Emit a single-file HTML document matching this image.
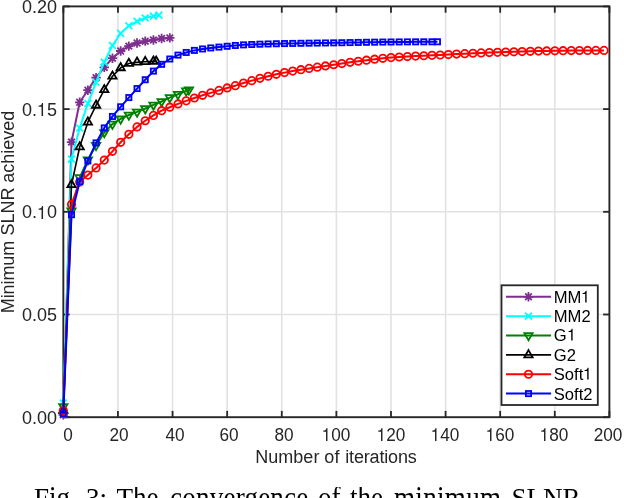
<!DOCTYPE html><html><head><meta charset="utf-8"><title>Fig. 3</title><style>
html,body{margin:0;padding:0;background:#fff;}
#c{position:relative;will-change:transform;width:624px;height:498px;overflow:hidden;background:#fff;font-family:"Liberation Sans",sans-serif;color:#262626;}
.t{position:absolute;white-space:nowrap;line-height:1;font-size:18px;}
.xt{transform:translateX(-50%) scaleX(0.955);}
.yt{transform:translate(-100%,-50%);}
.lg{position:absolute;white-space:nowrap;line-height:1;font-size:16.6px;color:#000;transform:translateY(-50%);}
.lc{position:absolute;top:-4.1px;white-space:nowrap;line-height:1;font-family:"Liberation Serif",serif;font-size:30.6px;color:#000;transform:scaleX(0.885);transform-origin:0 0;}
.cp{position:absolute;top:484.5px;white-space:nowrap;line-height:1;font-family:"Liberation Serif",serif;font-size:27.1px;color:#000;}
.g1{display:inline-block;width:0.556em;height:0.716em;vertical-align:baseline;overflow:visible;}
</style></head><body><div id="c">
<svg width="624" height="498" viewBox="0 0 624 498" style="position:absolute;left:0;top:0">
<rect x="0" y="0" width="624" height="498" fill="#ffffff"/>
<line x1="117.95" y1="6.4" x2="117.95" y2="417.2" stroke="#e2e2e2" stroke-width="1.6"/>
<line x1="172.56" y1="6.4" x2="172.56" y2="417.2" stroke="#e2e2e2" stroke-width="1.6"/>
<line x1="227.16" y1="6.4" x2="227.16" y2="417.2" stroke="#e2e2e2" stroke-width="1.6"/>
<line x1="281.77" y1="6.4" x2="281.77" y2="417.2" stroke="#e2e2e2" stroke-width="1.6"/>
<line x1="336.38" y1="6.4" x2="336.38" y2="417.2" stroke="#e2e2e2" stroke-width="1.6"/>
<line x1="390.98" y1="6.4" x2="390.98" y2="417.2" stroke="#e2e2e2" stroke-width="1.6"/>
<line x1="445.59" y1="6.4" x2="445.59" y2="417.2" stroke="#e2e2e2" stroke-width="1.6"/>
<line x1="500.19" y1="6.4" x2="500.19" y2="417.2" stroke="#e2e2e2" stroke-width="1.6"/>
<line x1="554.79" y1="6.4" x2="554.79" y2="417.2" stroke="#e2e2e2" stroke-width="1.6"/>
<line x1="63.35" y1="314.50" x2="609.4" y2="314.50" stroke="#e2e2e2" stroke-width="1.6"/>
<line x1="63.35" y1="211.80" x2="609.4" y2="211.80" stroke="#e2e2e2" stroke-width="1.6"/>
<line x1="63.35" y1="109.10" x2="609.4" y2="109.10" stroke="#e2e2e2" stroke-width="1.6"/>
<rect x="63.35" y="6.4" width="546.05" height="410.80" fill="none" stroke="#262626" stroke-width="1.9"/>
<line x1="63.35" y1="417.2" x2="63.35" y2="410.9" stroke="#262626" stroke-width="1.8"/>
<line x1="63.35" y1="6.4" x2="63.35" y2="12.7" stroke="#262626" stroke-width="1.8"/>
<line x1="117.95" y1="417.2" x2="117.95" y2="410.9" stroke="#262626" stroke-width="1.8"/>
<line x1="117.95" y1="6.4" x2="117.95" y2="12.7" stroke="#262626" stroke-width="1.8"/>
<line x1="172.56" y1="417.2" x2="172.56" y2="410.9" stroke="#262626" stroke-width="1.8"/>
<line x1="172.56" y1="6.4" x2="172.56" y2="12.7" stroke="#262626" stroke-width="1.8"/>
<line x1="227.16" y1="417.2" x2="227.16" y2="410.9" stroke="#262626" stroke-width="1.8"/>
<line x1="227.16" y1="6.4" x2="227.16" y2="12.7" stroke="#262626" stroke-width="1.8"/>
<line x1="281.77" y1="417.2" x2="281.77" y2="410.9" stroke="#262626" stroke-width="1.8"/>
<line x1="281.77" y1="6.4" x2="281.77" y2="12.7" stroke="#262626" stroke-width="1.8"/>
<line x1="336.38" y1="417.2" x2="336.38" y2="410.9" stroke="#262626" stroke-width="1.8"/>
<line x1="336.38" y1="6.4" x2="336.38" y2="12.7" stroke="#262626" stroke-width="1.8"/>
<line x1="390.98" y1="417.2" x2="390.98" y2="410.9" stroke="#262626" stroke-width="1.8"/>
<line x1="390.98" y1="6.4" x2="390.98" y2="12.7" stroke="#262626" stroke-width="1.8"/>
<line x1="445.59" y1="417.2" x2="445.59" y2="410.9" stroke="#262626" stroke-width="1.8"/>
<line x1="445.59" y1="6.4" x2="445.59" y2="12.7" stroke="#262626" stroke-width="1.8"/>
<line x1="500.19" y1="417.2" x2="500.19" y2="410.9" stroke="#262626" stroke-width="1.8"/>
<line x1="500.19" y1="6.4" x2="500.19" y2="12.7" stroke="#262626" stroke-width="1.8"/>
<line x1="554.79" y1="417.2" x2="554.79" y2="410.9" stroke="#262626" stroke-width="1.8"/>
<line x1="554.79" y1="6.4" x2="554.79" y2="12.7" stroke="#262626" stroke-width="1.8"/>
<line x1="609.40" y1="417.2" x2="609.40" y2="410.9" stroke="#262626" stroke-width="1.8"/>
<line x1="609.40" y1="6.4" x2="609.40" y2="12.7" stroke="#262626" stroke-width="1.8"/>
<line x1="63.35" y1="417.20" x2="69.65" y2="417.20" stroke="#262626" stroke-width="1.8"/>
<line x1="609.4" y1="417.20" x2="603.1" y2="417.20" stroke="#262626" stroke-width="1.8"/>
<line x1="63.35" y1="314.50" x2="69.65" y2="314.50" stroke="#262626" stroke-width="1.8"/>
<line x1="609.4" y1="314.50" x2="603.1" y2="314.50" stroke="#262626" stroke-width="1.8"/>
<line x1="63.35" y1="211.80" x2="69.65" y2="211.80" stroke="#262626" stroke-width="1.8"/>
<line x1="609.4" y1="211.80" x2="603.1" y2="211.80" stroke="#262626" stroke-width="1.8"/>
<line x1="63.35" y1="109.10" x2="69.65" y2="109.10" stroke="#262626" stroke-width="1.8"/>
<line x1="609.4" y1="109.10" x2="603.1" y2="109.10" stroke="#262626" stroke-width="1.8"/>
<line x1="63.35" y1="6.40" x2="69.65" y2="6.40" stroke="#262626" stroke-width="1.8"/>
<line x1="609.4" y1="6.40" x2="603.1" y2="6.40" stroke="#262626" stroke-width="1.8"/>
<path d="M63.30 414.86L71.49 142.08L79.69 102.29L87.88 90.19L96.07 77.67L104.27 67.42L112.46 58.19L120.65 51.01L128.84 46.09L137.04 43.01L145.23 41.17L153.42 39.94L161.62 38.50L169.81 37.89" fill="none" stroke="#7e2f8e" stroke-width="2.0" stroke-linejoin="round"/>
<path d="M58.60 414.86L68.00 414.86M63.30 410.16L63.30 419.56M59.98 411.54L66.62 418.18M59.98 418.18L66.62 411.54" fill="none" stroke="#7e2f8e" stroke-width="1.8"/>
<path d="M66.79 142.08L76.19 142.08M71.49 137.38L71.49 146.78M68.17 138.75L74.82 145.40M68.17 145.40L74.82 138.75" fill="none" stroke="#7e2f8e" stroke-width="1.8"/>
<path d="M74.99 102.29L84.39 102.29M79.69 97.59L79.69 106.99M76.36 98.96L83.01 105.61M76.36 105.61L83.01 98.96" fill="none" stroke="#7e2f8e" stroke-width="1.8"/>
<path d="M83.18 90.19L92.58 90.19M87.88 85.49L87.88 94.89M84.56 86.86L91.20 93.51M84.56 93.51L91.20 86.86" fill="none" stroke="#7e2f8e" stroke-width="1.8"/>
<path d="M91.37 77.67L100.77 77.67M96.07 72.97L96.07 82.37M92.75 74.35L99.40 81.00M92.75 81.00L99.40 74.35" fill="none" stroke="#7e2f8e" stroke-width="1.8"/>
<path d="M99.56 67.42L108.97 67.42M104.27 62.72L104.27 72.12M100.94 64.10L107.59 70.74M100.94 70.74L107.59 64.10" fill="none" stroke="#7e2f8e" stroke-width="1.8"/>
<path d="M107.76 58.19L117.16 58.19M112.46 53.49L112.46 62.89M109.13 54.87L115.78 61.51M109.13 61.51L115.78 54.87" fill="none" stroke="#7e2f8e" stroke-width="1.8"/>
<path d="M115.95 51.01L125.35 51.01M120.65 46.31L120.65 55.71M117.33 47.69L123.97 54.34M117.33 54.34L123.97 47.69" fill="none" stroke="#7e2f8e" stroke-width="1.8"/>
<path d="M124.14 46.09L133.54 46.09M128.84 41.39L128.84 50.79M125.52 42.77L132.17 49.41M125.52 49.41L132.17 42.77" fill="none" stroke="#7e2f8e" stroke-width="1.8"/>
<path d="M132.34 43.01L141.74 43.01M137.04 38.31L137.04 47.71M133.71 39.69L140.36 46.34M133.71 46.34L140.36 39.69" fill="none" stroke="#7e2f8e" stroke-width="1.8"/>
<path d="M140.53 41.17L149.93 41.17M145.23 36.47L145.23 45.87M141.91 37.84L148.55 44.49M141.91 44.49L148.55 37.84" fill="none" stroke="#7e2f8e" stroke-width="1.8"/>
<path d="M148.72 39.94L158.12 39.94M153.42 35.24L153.42 44.64M150.10 36.61L156.75 43.26M150.10 43.26L156.75 36.61" fill="none" stroke="#7e2f8e" stroke-width="1.8"/>
<path d="M156.92 38.50L166.32 38.50M161.62 33.80L161.62 43.20M158.29 35.18L164.94 41.82M158.29 41.82L164.94 35.18" fill="none" stroke="#7e2f8e" stroke-width="1.8"/>
<path d="M165.11 37.89L174.51 37.89M169.81 33.19L169.81 42.59M166.49 34.56L173.13 41.21M166.49 41.21L173.13 34.56" fill="none" stroke="#7e2f8e" stroke-width="1.8"/>
<path d="M63.30 402.96L71.49 159.10L79.69 127.92L87.88 103.52L96.07 82.19L104.27 62.09L112.46 45.47L120.65 33.37L128.84 25.78L137.04 21.27L145.23 17.99L153.42 16.14L158.88 15.12" fill="none" stroke="#00ffff" stroke-width="2.0" stroke-linejoin="round"/>
<path d="M59.90 399.56L66.70 406.36M59.90 406.36L66.70 399.56" fill="none" stroke="#00ffff" stroke-width="1.8"/>
<path d="M68.09 155.70L74.89 162.50M68.09 162.50L74.89 155.70" fill="none" stroke="#00ffff" stroke-width="1.8"/>
<path d="M76.29 124.52L83.09 131.32M76.29 131.32L83.09 124.52" fill="none" stroke="#00ffff" stroke-width="1.8"/>
<path d="M84.48 100.12L91.28 106.92M84.48 106.92L91.28 100.12" fill="none" stroke="#00ffff" stroke-width="1.8"/>
<path d="M92.67 78.79L99.47 85.59M92.67 85.59L99.47 78.79" fill="none" stroke="#00ffff" stroke-width="1.8"/>
<path d="M100.86 58.69L107.67 65.49M100.86 65.49L107.67 58.69" fill="none" stroke="#00ffff" stroke-width="1.8"/>
<path d="M109.06 42.07L115.86 48.87M109.06 48.87L115.86 42.07" fill="none" stroke="#00ffff" stroke-width="1.8"/>
<path d="M117.25 29.97L124.05 36.77M117.25 36.77L124.05 29.97" fill="none" stroke="#00ffff" stroke-width="1.8"/>
<path d="M125.44 22.38L132.24 29.18M125.44 29.18L132.24 22.38" fill="none" stroke="#00ffff" stroke-width="1.8"/>
<path d="M133.64 17.87L140.44 24.67M133.64 24.67L140.44 17.87" fill="none" stroke="#00ffff" stroke-width="1.8"/>
<path d="M141.83 14.59L148.63 21.39M141.83 21.39L148.63 14.59" fill="none" stroke="#00ffff" stroke-width="1.8"/>
<path d="M150.02 12.74L156.82 19.54M150.02 19.54L156.82 12.74" fill="none" stroke="#00ffff" stroke-width="1.8"/>
<path d="M155.48 11.72L162.28 18.52M155.48 18.52L162.28 11.72" fill="none" stroke="#00ffff" stroke-width="1.8"/>
<path d="M63.30 406.66L71.49 210.78L79.69 177.56L87.88 159.71L96.07 145.36L104.27 132.44L112.46 124.03L120.65 118.90L128.84 115.00L137.04 111.93L145.23 108.64L153.42 104.95L161.62 101.47L169.81 97.57L178.00 94.29L186.20 90.80L188.93 89.78" fill="none" stroke="#008000" stroke-width="2.0" stroke-linejoin="round"/>
<path d="M63.30 411.46L67.46 404.26L59.14 404.26Z" fill="none" stroke="#008000" stroke-width="1.8" stroke-linejoin="miter"/>
<path d="M71.49 215.58L75.65 208.38L67.34 208.38Z" fill="none" stroke="#008000" stroke-width="1.8" stroke-linejoin="miter"/>
<path d="M79.69 182.36L83.84 175.16L75.53 175.16Z" fill="none" stroke="#008000" stroke-width="1.8" stroke-linejoin="miter"/>
<path d="M87.88 164.51L92.04 157.31L83.72 157.31Z" fill="none" stroke="#008000" stroke-width="1.8" stroke-linejoin="miter"/>
<path d="M96.07 150.16L100.23 142.96L91.92 142.96Z" fill="none" stroke="#008000" stroke-width="1.8" stroke-linejoin="miter"/>
<path d="M104.27 137.24L108.42 130.04L100.11 130.04Z" fill="none" stroke="#008000" stroke-width="1.8" stroke-linejoin="miter"/>
<path d="M112.46 128.83L116.61 121.63L108.30 121.63Z" fill="none" stroke="#008000" stroke-width="1.8" stroke-linejoin="miter"/>
<path d="M120.65 123.70L124.81 116.50L116.49 116.50Z" fill="none" stroke="#008000" stroke-width="1.8" stroke-linejoin="miter"/>
<path d="M128.84 119.80L133.00 112.60L124.69 112.60Z" fill="none" stroke="#008000" stroke-width="1.8" stroke-linejoin="miter"/>
<path d="M137.04 116.73L141.19 109.53L132.88 109.53Z" fill="none" stroke="#008000" stroke-width="1.8" stroke-linejoin="miter"/>
<path d="M145.23 113.44L149.39 106.24L141.07 106.24Z" fill="none" stroke="#008000" stroke-width="1.8" stroke-linejoin="miter"/>
<path d="M153.42 109.75L157.58 102.55L149.27 102.55Z" fill="none" stroke="#008000" stroke-width="1.8" stroke-linejoin="miter"/>
<path d="M161.62 106.27L165.77 99.07L157.46 99.07Z" fill="none" stroke="#008000" stroke-width="1.8" stroke-linejoin="miter"/>
<path d="M169.81 102.37L173.97 95.17L165.65 95.17Z" fill="none" stroke="#008000" stroke-width="1.8" stroke-linejoin="miter"/>
<path d="M178.00 99.09L182.16 91.89L173.85 91.89Z" fill="none" stroke="#008000" stroke-width="1.8" stroke-linejoin="miter"/>
<path d="M186.20 95.60L190.35 88.40L182.04 88.40Z" fill="none" stroke="#008000" stroke-width="1.8" stroke-linejoin="miter"/>
<path d="M188.93 94.58L193.08 87.38L184.77 87.38Z" fill="none" stroke="#008000" stroke-width="1.8" stroke-linejoin="miter"/>
<path d="M63.30 410.35L71.49 184.74L79.69 147.00L87.88 122.18L96.07 105.36L104.27 89.78L112.46 76.24L120.65 67.83L128.84 63.52L137.04 62.29L145.23 61.68L153.42 61.27L156.15 61.27" fill="none" stroke="#000000" stroke-width="1.6" stroke-linejoin="round"/>
<path d="M63.30 405.55L67.46 412.75L59.14 412.75Z" fill="none" stroke="#000000" stroke-width="1.8" stroke-linejoin="miter"/>
<path d="M71.49 179.94L75.65 187.14L67.34 187.14Z" fill="none" stroke="#000000" stroke-width="1.8" stroke-linejoin="miter"/>
<path d="M79.69 142.20L83.84 149.40L75.53 149.40Z" fill="none" stroke="#000000" stroke-width="1.8" stroke-linejoin="miter"/>
<path d="M87.88 117.38L92.04 124.58L83.72 124.58Z" fill="none" stroke="#000000" stroke-width="1.8" stroke-linejoin="miter"/>
<path d="M96.07 100.56L100.23 107.76L91.92 107.76Z" fill="none" stroke="#000000" stroke-width="1.8" stroke-linejoin="miter"/>
<path d="M104.27 84.98L108.42 92.18L100.11 92.18Z" fill="none" stroke="#000000" stroke-width="1.8" stroke-linejoin="miter"/>
<path d="M112.46 71.44L116.61 78.64L108.30 78.64Z" fill="none" stroke="#000000" stroke-width="1.8" stroke-linejoin="miter"/>
<path d="M120.65 63.03L124.81 70.23L116.49 70.23Z" fill="none" stroke="#000000" stroke-width="1.8" stroke-linejoin="miter"/>
<path d="M128.84 58.72L133.00 65.92L124.69 65.92Z" fill="none" stroke="#000000" stroke-width="1.8" stroke-linejoin="miter"/>
<path d="M137.04 57.49L141.19 64.69L132.88 64.69Z" fill="none" stroke="#000000" stroke-width="1.8" stroke-linejoin="miter"/>
<path d="M145.23 56.88L149.39 64.08L141.07 64.08Z" fill="none" stroke="#000000" stroke-width="1.8" stroke-linejoin="miter"/>
<path d="M153.42 56.47L157.58 63.67L149.27 63.67Z" fill="none" stroke="#000000" stroke-width="1.8" stroke-linejoin="miter"/>
<path d="M156.15 56.47L160.31 63.67L152.00 63.67Z" fill="none" stroke="#000000" stroke-width="1.8" stroke-linejoin="miter"/>
<path d="M63.30 410.55L71.49 204.43L79.69 182.07L87.88 175.10L96.07 167.92L104.27 160.12L112.46 151.31L120.65 142.28L128.84 134.28L137.04 126.90L145.23 120.75L153.42 115.41L161.62 110.70L169.81 107.21L178.00 103.93L186.20 100.85L194.39 97.98L202.58 95.31L210.77 92.85L218.97 90.39L227.16 87.93L235.35 85.67L243.55 83.01L251.74 80.63L259.93 78.36L268.12 76.24L276.32 74.32L284.51 72.62L292.70 71.10L300.90 69.70L309.09 68.40L317.28 67.16L325.48 65.95L333.67 64.75L341.86 63.53L350.06 62.36L358.25 61.27L366.44 60.22L374.63 59.21L382.83 58.30L391.02 57.58L399.21 57.02L407.41 56.54L415.60 56.12L423.79 55.74L431.99 55.37L440.18 54.98L448.37 54.56L456.56 54.11L464.76 53.66L472.95 53.27L481.14 52.92L489.34 52.61L497.53 52.33L505.72 52.07L513.92 51.81L522.11 51.55L530.30 51.32L538.49 51.11L546.69 50.94L554.88 50.81L563.07 50.70L571.27 50.61L579.46 50.52L587.65 50.46L595.85 50.41L604.04 50.40" fill="none" stroke="#ff0000" stroke-width="2.0" stroke-linejoin="round"/>
<circle cx="63.30" cy="410.55" r="3.70" fill="none" stroke="#ff0000" stroke-width="1.8"/>
<circle cx="71.49" cy="204.43" r="3.70" fill="none" stroke="#ff0000" stroke-width="1.8"/>
<circle cx="79.69" cy="182.07" r="3.70" fill="none" stroke="#ff0000" stroke-width="1.8"/>
<circle cx="87.88" cy="175.10" r="3.70" fill="none" stroke="#ff0000" stroke-width="1.8"/>
<circle cx="96.07" cy="167.92" r="3.70" fill="none" stroke="#ff0000" stroke-width="1.8"/>
<circle cx="104.27" cy="160.12" r="3.70" fill="none" stroke="#ff0000" stroke-width="1.8"/>
<circle cx="112.46" cy="151.31" r="3.70" fill="none" stroke="#ff0000" stroke-width="1.8"/>
<circle cx="120.65" cy="142.28" r="3.70" fill="none" stroke="#ff0000" stroke-width="1.8"/>
<circle cx="128.84" cy="134.28" r="3.70" fill="none" stroke="#ff0000" stroke-width="1.8"/>
<circle cx="137.04" cy="126.90" r="3.70" fill="none" stroke="#ff0000" stroke-width="1.8"/>
<circle cx="145.23" cy="120.75" r="3.70" fill="none" stroke="#ff0000" stroke-width="1.8"/>
<circle cx="153.42" cy="115.41" r="3.70" fill="none" stroke="#ff0000" stroke-width="1.8"/>
<circle cx="161.62" cy="110.70" r="3.70" fill="none" stroke="#ff0000" stroke-width="1.8"/>
<circle cx="169.81" cy="107.21" r="3.70" fill="none" stroke="#ff0000" stroke-width="1.8"/>
<circle cx="178.00" cy="103.93" r="3.70" fill="none" stroke="#ff0000" stroke-width="1.8"/>
<circle cx="186.20" cy="100.85" r="3.70" fill="none" stroke="#ff0000" stroke-width="1.8"/>
<circle cx="194.39" cy="97.98" r="3.70" fill="none" stroke="#ff0000" stroke-width="1.8"/>
<circle cx="202.58" cy="95.31" r="3.70" fill="none" stroke="#ff0000" stroke-width="1.8"/>
<circle cx="210.77" cy="92.85" r="3.70" fill="none" stroke="#ff0000" stroke-width="1.8"/>
<circle cx="218.97" cy="90.39" r="3.70" fill="none" stroke="#ff0000" stroke-width="1.8"/>
<circle cx="227.16" cy="87.93" r="3.70" fill="none" stroke="#ff0000" stroke-width="1.8"/>
<circle cx="235.35" cy="85.67" r="3.70" fill="none" stroke="#ff0000" stroke-width="1.8"/>
<circle cx="243.55" cy="83.01" r="3.70" fill="none" stroke="#ff0000" stroke-width="1.8"/>
<circle cx="251.74" cy="80.63" r="3.70" fill="none" stroke="#ff0000" stroke-width="1.8"/>
<circle cx="259.93" cy="78.36" r="3.70" fill="none" stroke="#ff0000" stroke-width="1.8"/>
<circle cx="268.12" cy="76.24" r="3.70" fill="none" stroke="#ff0000" stroke-width="1.8"/>
<circle cx="276.32" cy="74.32" r="3.70" fill="none" stroke="#ff0000" stroke-width="1.8"/>
<circle cx="284.51" cy="72.62" r="3.70" fill="none" stroke="#ff0000" stroke-width="1.8"/>
<circle cx="292.70" cy="71.10" r="3.70" fill="none" stroke="#ff0000" stroke-width="1.8"/>
<circle cx="300.90" cy="69.70" r="3.70" fill="none" stroke="#ff0000" stroke-width="1.8"/>
<circle cx="309.09" cy="68.40" r="3.70" fill="none" stroke="#ff0000" stroke-width="1.8"/>
<circle cx="317.28" cy="67.16" r="3.70" fill="none" stroke="#ff0000" stroke-width="1.8"/>
<circle cx="325.48" cy="65.95" r="3.70" fill="none" stroke="#ff0000" stroke-width="1.8"/>
<circle cx="333.67" cy="64.75" r="3.70" fill="none" stroke="#ff0000" stroke-width="1.8"/>
<circle cx="341.86" cy="63.53" r="3.70" fill="none" stroke="#ff0000" stroke-width="1.8"/>
<circle cx="350.06" cy="62.36" r="3.70" fill="none" stroke="#ff0000" stroke-width="1.8"/>
<circle cx="358.25" cy="61.27" r="3.70" fill="none" stroke="#ff0000" stroke-width="1.8"/>
<circle cx="366.44" cy="60.22" r="3.70" fill="none" stroke="#ff0000" stroke-width="1.8"/>
<circle cx="374.63" cy="59.21" r="3.70" fill="none" stroke="#ff0000" stroke-width="1.8"/>
<circle cx="382.83" cy="58.30" r="3.70" fill="none" stroke="#ff0000" stroke-width="1.8"/>
<circle cx="391.02" cy="57.58" r="3.70" fill="none" stroke="#ff0000" stroke-width="1.8"/>
<circle cx="399.21" cy="57.02" r="3.70" fill="none" stroke="#ff0000" stroke-width="1.8"/>
<circle cx="407.41" cy="56.54" r="3.70" fill="none" stroke="#ff0000" stroke-width="1.8"/>
<circle cx="415.60" cy="56.12" r="3.70" fill="none" stroke="#ff0000" stroke-width="1.8"/>
<circle cx="423.79" cy="55.74" r="3.70" fill="none" stroke="#ff0000" stroke-width="1.8"/>
<circle cx="431.99" cy="55.37" r="3.70" fill="none" stroke="#ff0000" stroke-width="1.8"/>
<circle cx="440.18" cy="54.98" r="3.70" fill="none" stroke="#ff0000" stroke-width="1.8"/>
<circle cx="448.37" cy="54.56" r="3.70" fill="none" stroke="#ff0000" stroke-width="1.8"/>
<circle cx="456.56" cy="54.11" r="3.70" fill="none" stroke="#ff0000" stroke-width="1.8"/>
<circle cx="464.76" cy="53.66" r="3.70" fill="none" stroke="#ff0000" stroke-width="1.8"/>
<circle cx="472.95" cy="53.27" r="3.70" fill="none" stroke="#ff0000" stroke-width="1.8"/>
<circle cx="481.14" cy="52.92" r="3.70" fill="none" stroke="#ff0000" stroke-width="1.8"/>
<circle cx="489.34" cy="52.61" r="3.70" fill="none" stroke="#ff0000" stroke-width="1.8"/>
<circle cx="497.53" cy="52.33" r="3.70" fill="none" stroke="#ff0000" stroke-width="1.8"/>
<circle cx="505.72" cy="52.07" r="3.70" fill="none" stroke="#ff0000" stroke-width="1.8"/>
<circle cx="513.92" cy="51.81" r="3.70" fill="none" stroke="#ff0000" stroke-width="1.8"/>
<circle cx="522.11" cy="51.55" r="3.70" fill="none" stroke="#ff0000" stroke-width="1.8"/>
<circle cx="530.30" cy="51.32" r="3.70" fill="none" stroke="#ff0000" stroke-width="1.8"/>
<circle cx="538.49" cy="51.11" r="3.70" fill="none" stroke="#ff0000" stroke-width="1.8"/>
<circle cx="546.69" cy="50.94" r="3.70" fill="none" stroke="#ff0000" stroke-width="1.8"/>
<circle cx="554.88" cy="50.81" r="3.70" fill="none" stroke="#ff0000" stroke-width="1.8"/>
<circle cx="563.07" cy="50.70" r="3.70" fill="none" stroke="#ff0000" stroke-width="1.8"/>
<circle cx="571.27" cy="50.61" r="3.70" fill="none" stroke="#ff0000" stroke-width="1.8"/>
<circle cx="579.46" cy="50.52" r="3.70" fill="none" stroke="#ff0000" stroke-width="1.8"/>
<circle cx="587.65" cy="50.46" r="3.70" fill="none" stroke="#ff0000" stroke-width="1.8"/>
<circle cx="595.85" cy="50.41" r="3.70" fill="none" stroke="#ff0000" stroke-width="1.8"/>
<circle cx="604.04" cy="50.40" r="3.70" fill="none" stroke="#ff0000" stroke-width="1.8"/>
<path d="M63.30 413.83L71.49 214.68L79.69 181.66L87.88 160.95L96.07 142.90L104.27 127.92L112.46 116.44L120.65 106.80L128.84 97.57L137.04 88.55L145.23 79.73L153.42 71.11L161.62 64.34L169.81 59.01L178.00 55.11L186.20 52.45L194.39 50.40L202.58 48.96L210.77 47.94L218.97 47.11L227.16 46.29L235.35 45.47L243.55 44.86L251.74 44.49L259.93 44.19L268.12 43.95L276.32 43.75L284.51 43.57L292.70 43.42L300.90 43.29L309.09 43.18L317.28 43.07L325.48 42.96L333.67 42.85L341.86 42.72L350.06 42.58L358.25 42.44L366.44 42.29L374.63 42.17L382.83 42.06L391.02 41.99L399.21 41.93L407.41 41.88L415.60 41.84L423.79 41.81L431.99 41.79L437.45 41.78" fill="none" stroke="#0000ff" stroke-width="2.0" stroke-linejoin="round"/>
<rect x="60.70" y="411.23" width="5.20" height="5.20" fill="none" stroke="#0000ff" stroke-width="1.8"/>
<rect x="68.89" y="212.08" width="5.20" height="5.20" fill="none" stroke="#0000ff" stroke-width="1.8"/>
<rect x="77.09" y="179.06" width="5.20" height="5.20" fill="none" stroke="#0000ff" stroke-width="1.8"/>
<rect x="85.28" y="158.35" width="5.20" height="5.20" fill="none" stroke="#0000ff" stroke-width="1.8"/>
<rect x="93.47" y="140.30" width="5.20" height="5.20" fill="none" stroke="#0000ff" stroke-width="1.8"/>
<rect x="101.67" y="125.32" width="5.20" height="5.20" fill="none" stroke="#0000ff" stroke-width="1.8"/>
<rect x="109.86" y="113.84" width="5.20" height="5.20" fill="none" stroke="#0000ff" stroke-width="1.8"/>
<rect x="118.05" y="104.20" width="5.20" height="5.20" fill="none" stroke="#0000ff" stroke-width="1.8"/>
<rect x="126.24" y="94.97" width="5.20" height="5.20" fill="none" stroke="#0000ff" stroke-width="1.8"/>
<rect x="134.44" y="85.95" width="5.20" height="5.20" fill="none" stroke="#0000ff" stroke-width="1.8"/>
<rect x="142.63" y="77.13" width="5.20" height="5.20" fill="none" stroke="#0000ff" stroke-width="1.8"/>
<rect x="150.82" y="68.51" width="5.20" height="5.20" fill="none" stroke="#0000ff" stroke-width="1.8"/>
<rect x="159.02" y="61.74" width="5.20" height="5.20" fill="none" stroke="#0000ff" stroke-width="1.8"/>
<rect x="167.21" y="56.41" width="5.20" height="5.20" fill="none" stroke="#0000ff" stroke-width="1.8"/>
<rect x="175.40" y="52.51" width="5.20" height="5.20" fill="none" stroke="#0000ff" stroke-width="1.8"/>
<rect x="183.60" y="49.85" width="5.20" height="5.20" fill="none" stroke="#0000ff" stroke-width="1.8"/>
<rect x="191.79" y="47.80" width="5.20" height="5.20" fill="none" stroke="#0000ff" stroke-width="1.8"/>
<rect x="199.98" y="46.36" width="5.20" height="5.20" fill="none" stroke="#0000ff" stroke-width="1.8"/>
<rect x="208.17" y="45.34" width="5.20" height="5.20" fill="none" stroke="#0000ff" stroke-width="1.8"/>
<rect x="216.37" y="44.51" width="5.20" height="5.20" fill="none" stroke="#0000ff" stroke-width="1.8"/>
<rect x="224.56" y="43.69" width="5.20" height="5.20" fill="none" stroke="#0000ff" stroke-width="1.8"/>
<rect x="232.75" y="42.87" width="5.20" height="5.20" fill="none" stroke="#0000ff" stroke-width="1.8"/>
<rect x="240.95" y="42.26" width="5.20" height="5.20" fill="none" stroke="#0000ff" stroke-width="1.8"/>
<rect x="249.14" y="41.89" width="5.20" height="5.20" fill="none" stroke="#0000ff" stroke-width="1.8"/>
<rect x="257.33" y="41.59" width="5.20" height="5.20" fill="none" stroke="#0000ff" stroke-width="1.8"/>
<rect x="265.52" y="41.35" width="5.20" height="5.20" fill="none" stroke="#0000ff" stroke-width="1.8"/>
<rect x="273.72" y="41.15" width="5.20" height="5.20" fill="none" stroke="#0000ff" stroke-width="1.8"/>
<rect x="281.91" y="40.97" width="5.20" height="5.20" fill="none" stroke="#0000ff" stroke-width="1.8"/>
<rect x="290.10" y="40.82" width="5.20" height="5.20" fill="none" stroke="#0000ff" stroke-width="1.8"/>
<rect x="298.30" y="40.69" width="5.20" height="5.20" fill="none" stroke="#0000ff" stroke-width="1.8"/>
<rect x="306.49" y="40.58" width="5.20" height="5.20" fill="none" stroke="#0000ff" stroke-width="1.8"/>
<rect x="314.68" y="40.47" width="5.20" height="5.20" fill="none" stroke="#0000ff" stroke-width="1.8"/>
<rect x="322.88" y="40.36" width="5.20" height="5.20" fill="none" stroke="#0000ff" stroke-width="1.8"/>
<rect x="331.07" y="40.25" width="5.20" height="5.20" fill="none" stroke="#0000ff" stroke-width="1.8"/>
<rect x="339.26" y="40.12" width="5.20" height="5.20" fill="none" stroke="#0000ff" stroke-width="1.8"/>
<rect x="347.46" y="39.98" width="5.20" height="5.20" fill="none" stroke="#0000ff" stroke-width="1.8"/>
<rect x="355.65" y="39.84" width="5.20" height="5.20" fill="none" stroke="#0000ff" stroke-width="1.8"/>
<rect x="363.84" y="39.69" width="5.20" height="5.20" fill="none" stroke="#0000ff" stroke-width="1.8"/>
<rect x="372.03" y="39.57" width="5.20" height="5.20" fill="none" stroke="#0000ff" stroke-width="1.8"/>
<rect x="380.23" y="39.46" width="5.20" height="5.20" fill="none" stroke="#0000ff" stroke-width="1.8"/>
<rect x="388.42" y="39.39" width="5.20" height="5.20" fill="none" stroke="#0000ff" stroke-width="1.8"/>
<rect x="396.61" y="39.33" width="5.20" height="5.20" fill="none" stroke="#0000ff" stroke-width="1.8"/>
<rect x="404.81" y="39.28" width="5.20" height="5.20" fill="none" stroke="#0000ff" stroke-width="1.8"/>
<rect x="413.00" y="39.24" width="5.20" height="5.20" fill="none" stroke="#0000ff" stroke-width="1.8"/>
<rect x="421.19" y="39.21" width="5.20" height="5.20" fill="none" stroke="#0000ff" stroke-width="1.8"/>
<rect x="429.38" y="39.19" width="5.20" height="5.20" fill="none" stroke="#0000ff" stroke-width="1.8"/>
<rect x="434.85" y="39.18" width="5.20" height="5.20" fill="none" stroke="#0000ff" stroke-width="1.8"/>
<rect x="501.5" y="285.3" width="96.30" height="119.70" fill="#ffffff" stroke="#262626" stroke-width="1.8"/>
<line x1="506.0" y1="296.80" x2="551.1" y2="296.80" stroke="#7e2f8e" stroke-width="2.0"/>
<path d="M523.80 296.80L533.20 296.80M528.50 292.10L528.50 301.50M525.18 293.48L531.82 300.12M525.18 300.12L531.82 293.48" fill="none" stroke="#7e2f8e" stroke-width="1.8"/>
<line x1="506.0" y1="316.16" x2="551.1" y2="316.16" stroke="#00ffff" stroke-width="2.0"/>
<path d="M525.10 312.76L531.90 319.56M525.10 319.56L531.90 312.76" fill="none" stroke="#00ffff" stroke-width="1.8"/>
<line x1="506.0" y1="335.52" x2="551.1" y2="335.52" stroke="#008000" stroke-width="2.0"/>
<path d="M528.50 340.32L532.66 333.12L524.34 333.12Z" fill="none" stroke="#008000" stroke-width="1.8" stroke-linejoin="miter"/>
<line x1="506.0" y1="354.88" x2="551.1" y2="354.88" stroke="#000000" stroke-width="1.6"/>
<path d="M528.50 350.08L532.66 357.28L524.34 357.28Z" fill="none" stroke="#000000" stroke-width="1.8" stroke-linejoin="miter"/>
<line x1="506.0" y1="374.24" x2="551.1" y2="374.24" stroke="#ff0000" stroke-width="2.0"/>
<circle cx="528.50" cy="374.24" r="3.70" fill="none" stroke="#ff0000" stroke-width="1.8"/>
<line x1="506.0" y1="393.60" x2="551.1" y2="393.60" stroke="#0000ff" stroke-width="2.0"/>
<rect x="525.90" y="391.00" width="5.20" height="5.20" fill="none" stroke="#0000ff" stroke-width="1.8"/>
</svg>
<div class="t xt" style="left:68.05px;top:426px;">0</div>
<div class="t xt" style="left:119.25px;top:426px;">20</div>
<div class="t xt" style="left:174.76px;top:426px;">40</div>
<div class="t xt" style="left:229.06px;top:426px;">60</div>
<div class="t xt" style="left:283.77px;top:426px;">80</div>
<div class="t xt" style="left:335.57px;top:426px;"><svg class="g1" viewBox="0 0 556 716" preserveAspectRatio="none"><path fill="currentColor" d="M338 716L254 716L254 204L96 204L96 142C196 138 264 100 286 0L338 0Z"/></svg>00</div>
<div class="t xt" style="left:391.08px;top:426px;"><svg class="g1" viewBox="0 0 556 716" preserveAspectRatio="none"><path fill="currentColor" d="M338 716L254 716L254 204L96 204L96 142C196 138 264 100 286 0L338 0Z"/></svg>20</div>
<div class="t xt" style="left:444.89px;top:426px;"><svg class="g1" viewBox="0 0 556 716" preserveAspectRatio="none"><path fill="currentColor" d="M338 716L254 716L254 204L96 204L96 142C196 138 264 100 286 0L338 0Z"/></svg>40</div>
<div class="t xt" style="left:499.69px;top:426px;"><svg class="g1" viewBox="0 0 556 716" preserveAspectRatio="none"><path fill="currentColor" d="M338 716L254 716L254 204L96 204L96 142C196 138 264 100 286 0L338 0Z"/></svg>60</div>
<div class="t xt" style="left:554.25px;top:426px;"><svg class="g1" viewBox="0 0 556 716" preserveAspectRatio="none"><path fill="currentColor" d="M338 716L254 716L254 204L96 204L96 142C196 138 264 100 286 0L338 0Z"/></svg>80</div>
<div class="t xt" style="left:608.20px;top:426px;">200</div>
<div class="t yt" style="left:57px;top:417.80px">0.00</div>
<div class="t yt" style="left:57px;top:315.10px">0.05</div>
<div class="t yt" style="left:57px;top:212.40px">0.<svg class="g1" viewBox="0 0 556 716" preserveAspectRatio="none"><path fill="currentColor" d="M338 716L254 716L254 204L96 204L96 142C196 138 264 100 286 0L338 0Z"/></svg>0</div>
<div class="t yt" style="left:57px;top:109.70px">0.<svg class="g1" viewBox="0 0 556 716" preserveAspectRatio="none"><path fill="currentColor" d="M338 716L254 716L254 204L96 204L96 142C196 138 264 100 286 0L338 0Z"/></svg>5</div>
<div class="t yt" style="left:57px;top:7.00px">0.20</div>
<div class="t" style="left:335.5px;top:447.8px;transform:translateX(-50%)">Number of <span style="position:relative;left:0.9px;letter-spacing:-0.18px">iterations</span></div>
<div class="t" style="left:8px;top:212.0px;transform:translate(-50%,-50%) rotate(-90deg)"><span style="letter-spacing:-0.12px">Minimum</span> <span style="position:relative;left:0.35px">SLNR</span> <span style="position:relative;left:0.2px">achieved</span></div>
<div class="lg" style="left:553.8px;top:298.10px">MM<svg class="g1" viewBox="0 0 556 716" preserveAspectRatio="none"><path fill="currentColor" d="M338 716L254 716L254 204L96 204L96 142C196 138 264 100 286 0L338 0Z"/></svg></div>
<div class="lg" style="left:553.8px;top:316.66px">MM2</div>
<div class="lg" style="left:553.8px;top:336.22px">G<svg class="g1" viewBox="0 0 556 716" preserveAspectRatio="none"><path fill="currentColor" d="M338 716L254 716L254 204L96 204L96 142C196 138 264 100 286 0L338 0Z"/></svg></div>
<div class="lg" style="left:553.8px;top:356.48px">G2</div>
<div class="lg" style="left:553.8px;top:374.74px">Soft<svg class="g1" viewBox="0 0 556 716" preserveAspectRatio="none"><path fill="currentColor" d="M338 716L254 716L254 204L96 204L96 142C196 138 264 100 286 0L338 0Z"/></svg></div>
<div class="lg" style="left:553.8px;top:394.90px">Soft2</div>
<div class="cp" style="left:34.00px">F</div>
<div class="cp" style="left:86.00px">3:</div>
<div class="cp" style="left:116.60px">T</div>
<div class="cp" style="left:511.40px">SLNR</div>
<div style="position:absolute;left:0;top:487.3px;width:624px;height:10.7px;overflow:hidden">
<div class="lc" style="left:49.07px;">ig.</div>
<div class="lc" style="left:133.16px;">he</div>
<div class="lc" style="left:170.00px;letter-spacing:0.23px;">convergence</div>
<div class="lc" style="left:318.40px;">of</div>
<div class="lc" style="left:349.60px;">the</div>
<div class="lc" style="left:394.40px;letter-spacing:0.34px;">minimum</div>
</div>
</div></body></html>
